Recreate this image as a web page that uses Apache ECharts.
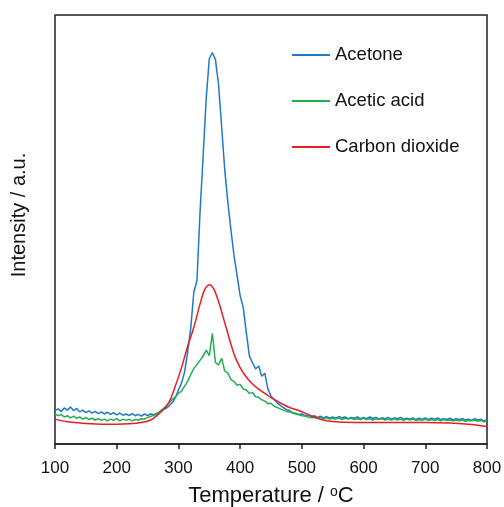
<!DOCTYPE html>
<html>
<head>
<meta charset="utf-8">
<script src="https://cdn.jsdelivr.net/npm/echarts@6/dist/echarts.min.js"></script>
<style>
html,body{margin:0;padding:0;background:#fff;}
#chart{width:504px;height:507px;}
</style>
</head>
<body>
<div id="chart"></div>
<script>
// Temperature grid (°C) for the noisy mass-spec traces
const temps = [];
for (let t = 100; t <= 800; t += 5) temps.push(t);

const xTicks = [100, 200, 300, 400, 500, 600, 700, 800];

const acetone = [
  7.8, 8.2, 7.6, 8.4, 7.9, 8.6, 7.8, 8.3, 7.5, 7.9,   // 100-145
  7.3, 7.7, 7.2, 7.6, 7.1, 7.5, 7.0, 7.4, 6.9, 7.3,   // 150-195
  6.8, 7.2, 6.7, 7.0, 6.6, 7.1, 6.6, 6.9, 6.5, 7.0,   // 200-245
  6.6, 7.0, 6.8, 7.2, 7.4, 8.0, 8.3, 8.9, 9.6, 10.8,  // 250-295
  12.6, 14.2, 16.8, 21.5, 27.0, 35.5, 38.0, 54.0, 67.0, 80.5, // 300-345
  89.8, 91.2, 89.6, 83.8, 74.0, 64.0, 56.5, 50.0, 44.0, 39.3, // 350-395
  34.6, 31.8, 26.0, 20.5, 19.0, 17.5, 18.2, 15.8, 16.5, 12.8, // 400-445
  11.2, 10.4, 9.6, 9.0, 8.5, 8.0, 7.8, 7.3, 7.2, 6.9,  // 450-495
  7.0, 6.6, 6.8, 6.4, 6.6, 6.2, 6.5, 6.1, 6.4, 6.0,   // 500-545
  6.3, 6.0, 6.4, 6.1, 6.3, 5.9, 6.2, 6.0, 6.3, 5.9,   // 550-595
  6.2, 5.9, 6.3, 6.0, 6.2, 5.8, 6.1, 5.9, 6.2, 5.8,   // 600-645
  6.1, 5.9, 6.2, 5.8, 6.0, 5.8, 6.1, 5.7, 6.0, 5.8,   // 650-695
  6.1, 5.7, 6.0, 5.8, 6.1, 5.7, 5.9, 5.7, 6.0, 5.6,   // 700-745
  5.9, 5.7, 5.9, 5.6, 5.8, 5.5, 5.9, 5.6, 5.8, 5.4,   // 750-795
  5.6                                                 // 800
];

const aceticAcid = [
  7.0, 6.6, 6.9, 6.3, 6.6, 6.1, 6.5, 6.0, 6.3, 5.8,   // 100-145
  6.2, 5.7, 6.0, 5.6, 5.9, 5.5, 5.8, 5.4, 5.8, 5.5,   // 150-195
  5.9, 5.4, 5.8, 5.5, 5.8, 5.4, 5.7, 5.6, 5.9, 5.8,   // 200-245
  6.2, 6.4, 6.7, 7.0, 7.6, 8.2, 8.8, 9.6, 10.4, 11.0, // 250-295
  11.8, 12.3, 13.5, 14.6, 16.2, 17.6, 18.5, 19.5, 20.5, 21.9, // 300-345
  20.6, 25.8, 19.0, 18.4, 20.0, 17.0, 16.6, 15.0, 14.6, 13.7, // 350-395
  13.9, 12.8, 12.6, 11.8, 12.0, 11.0, 10.9, 10.3, 10.0, 9.4,  // 400-445
  9.5, 8.8, 8.5, 8.2, 7.9, 7.6, 7.5, 7.2, 7.0, 6.8,   // 450-495
  6.6, 6.5, 6.3, 6.1, 6.2, 6.0, 6.2, 5.9, 6.1, 5.8,   // 500-545
  6.0, 5.8, 6.1, 5.7, 6.0, 5.8, 6.0, 5.7, 5.9, 5.7,   // 550-595
  6.0, 5.7, 5.9, 5.6, 5.9, 5.7, 5.9, 5.6, 5.8, 5.6,   // 600-645
  5.9, 5.6, 5.8, 5.5, 5.8, 5.6, 5.8, 5.5, 5.7, 5.5,   // 650-695
  5.8, 5.5, 5.7, 5.5, 5.7, 5.4, 5.7, 5.5, 5.6, 5.4,   // 700-745
  5.6, 5.4, 5.6, 5.3, 5.5, 5.4, 5.6, 5.3, 5.5, 5.2,   // 750-795
  5.3                                                 // 800
];

const co2Temps = [100, 120, 140, 160, 180, 200, 220, 240, 255, 265, 275, 285, 295, 305, 315, 325, 335, 342, 350, 357, 365, 372, 380, 390, 400, 410, 420, 430, 440, 450, 465, 480, 495, 510, 525, 540, 560, 600, 650, 700, 740, 770, 800];
const co2      = [5.8, 5.2, 4.9, 4.7, 4.6, 4.6, 4.7, 5.0, 5.6, 6.6, 7.9, 9.8, 13.5, 17.8, 22.8, 27.2, 32.6, 35.8, 37.1, 36.2, 33.2, 29.8, 25.8, 21.0, 17.8, 15.6, 14.0, 12.8, 11.8, 10.8, 9.6, 8.5, 7.8, 6.9, 6.0, 5.4, 5.1, 5.0, 5.0, 5.0, 4.9, 4.6, 4.1];

const seriesNames = ['Acetone', 'Acetic acid', 'Carbon dioxide'];
const seriesColors = ['#1f78c8', '#1fb050', '#ec1c24'];

const pair = (xs, ys) => xs.map((x, i) => [x, ys[i]]);

const FONT = 'Liberation Sans, Arial, sans-serif';
const chart = echarts.init(document.getElementById('chart'), null, {renderer: 'canvas'});
chart.setOption({
  animation: false,
  backgroundColor: '#fff',
  grid: {left: 55, right: 17, top: 15, bottom: 63, containLabel: false, outerBoundsMode: 'none',
    show: true, borderColor: '#222', borderWidth: 1.5, backgroundColor: 'transparent'},
  legend: {
    orient: 'vertical', left: 287, top: 40,
    icon: 'rect', itemWidth: 38, itemHeight: 2, itemGap: 26,
    textStyle: {fontFamily: FONT, fontSize: 18.5, color: '#111', lineHeight: 20, padding: [0, 0, 0, 0]},
    data: seriesNames
  },
  xAxis: {
    type: 'value', min: 100, max: 800, interval: 100,
    axisLine: {show: true, lineStyle: {color: '#222', width: 1.5}},
    axisTick: {show: true, inside: false, length: 5, lineStyle: {color: '#222', width: 1.5}},
    axisLabel: {fontFamily: FONT, fontSize: 17, color: '#111', margin: 16,
      formatter: v => xTicks.includes(v) ? String(v) : ''},
    splitLine: {show: false},
    name: 'Temperature / {sup|o}C',
    nameLocation: 'middle', nameGap: 41,
    nameTextStyle: {fontFamily: FONT, fontSize: 22, color: '#111',
      rich: {sup: {fontFamily: FONT, fontSize: 14, color: '#111', verticalAlign: 'top', lineHeight: 22}}}
  },
  yAxis: {
    type: 'value', min: 0, max: 100,
    axisLine: {show: false}, axisTick: {show: false}, axisLabel: {show: false}, splitLine: {show: false}
  },
  graphic: [{
    type: 'text', x: 19, y: 215, rotation: Math.PI / 2,
    style: {text: 'Intensity / a.u.', fontFamily: FONT, fontSize: 20, fill: '#111', align: 'center', verticalAlign: 'middle'}
  }],
  series: [
    {name: seriesNames[0], type: 'line', data: pair(temps, acetone), showSymbol: false, symbol: 'none',
      lineStyle: {color: seriesColors[0], width: 1.5}, itemStyle: {color: seriesColors[0]}, z: 3},
    {name: seriesNames[1], type: 'line', data: pair(temps, aceticAcid), showSymbol: false, symbol: 'none',
      lineStyle: {color: seriesColors[1], width: 1.5}, itemStyle: {color: seriesColors[1]}, z: 4},
    {name: seriesNames[2], type: 'line', data: pair(co2Temps, co2), showSymbol: false, symbol: 'none', smooth: 0.3,
      lineStyle: {color: seriesColors[2], width: 1.5}, itemStyle: {color: seriesColors[2]}, z: 5}
  ]
});
</script>
</body>
</html>
